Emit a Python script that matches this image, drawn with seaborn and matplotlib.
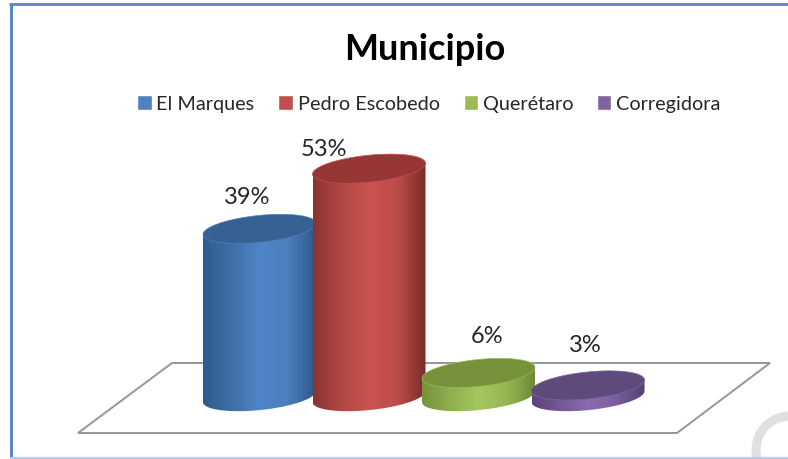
#Municipio chart - 3D looking cylinders drawn from a seaborn barplot
import numpy as np
import pandas as pd
import seaborn as sns
import matplotlib.pyplot as plt
from matplotlib.colors import LinearSegmentedColormap
from matplotlib.patches import Polygon, Ellipse

#Data (labels are rounded, they add up to 101, the small discs read a bit under their label)
municipios = ['El Marques', 'Pedro Escobedo', 'Querétaro', 'Corregidora']
valores = [39, 53, 5.5, 2.6]
etiquetas = ['39%', '53%', '6%', '3%']

#Colours
colores = ['#4F81BD', '#C0504D', '#9BBB59', '#8064A2']
tapas = ['#376193', '#973735', '#76933C', '#5F4A7C']
lados = [['#2F5C8F', '#3F6DA5', '#4F86C8', '#4B7FBD', '#30588A'],
         ['#8A3331', '#B24845', '#CB5350', '#BC4C49', '#7A2C2A'],
         ['#769339', '#8FAE50', '#A4C75E', '#96B654', '#6F8B36'],
         ['#5A4479', '#735894', '#8A6BB0', '#7A5F9C', '#553F73']]

#Layout, in pixels of the 788x459 picture
ANCHO, ALTO = 788, 459
PX_X = 109.5       #pixels between two categories
PX_Y = 4.3         #pixels for one percent
X0, Y0 = 259.5, 396.6   #centre of the first base
MEDIO_X = 56.5
MEDIO_Y = 13.5
CORTE = 5.5        #tilt of the ellipses
#label shift from the bar centre (x) and above the top of the bar (y)
mover_x = [-12, -45, 9, -3]
mover_y = [31, 19, 36, 40]


def dx(p):
    return (p - X0) / PX_X


def dy(p):
    return (Y0 - p) / PX_Y


sns.set_theme(style='white')
plt.rcParams['font.family'] = ['Lato', 'DejaVu Sans']

fig = plt.figure(figsize=(ANCHO / 100, ALTO / 100), dpi=100)
ax = fig.add_axes([0, 0, 1, 1])

tabla = pd.DataFrame({'municipio': municipios, 'valor': valores})
sns.barplot(data=tabla, x='municipio', y='valor', hue='municipio', palette=colores,
            hue_order=municipios, width=2 * MEDIO_X / PX_X, saturation=1, legend=True, ax=ax)

ax.set_xlim(dx(0), dx(ANCHO))
ax.set_ylim(dy(ALTO), dy(0))
ax.axis('off')

#Legend
sns.move_legend(ax, 'center', bbox_to_anchor=(dx(429), dy(104)), bbox_transform=ax.transData,
                ncol=4, frameon=False, title=None, fontsize=14.3, handlelength=0.72,
                handleheight=0.72, handletextpad=0.25, columnspacing=1.2, labelcolor='#262626')

#Floor
suelo = [(172, 363), (770, 363), (677, 433), (78, 433)]
ax.add_patch(Polygon([(dx(p), dy(q)) for p, q in suelo], closed=True, fill=False,
                     edgecolor='#969696', linewidth=1.4, zorder=1))

t_abajo = np.linspace(np.pi, 2 * np.pi, 80)
t_todo = np.linspace(0, 2 * np.pi, 160)
a = MEDIO_X / PX_X
b = MEDIO_Y / PX_Y
k = CORTE / PX_Y

#Turn each seaborn bar into a cylinder
barras = [p for p in ax.patches if isinstance(p, plt.Rectangle) and p.get_height() > 0]
for i, barra in enumerate(barras):
    cx = barra.get_x() + barra.get_width() / 2
    alto = barra.get_height()
    barra.set_visible(False)
    z = 3 + i

    #side of the cylinder: bottom arc plus the top edge
    xs = cx + a * np.cos(t_abajo)
    ys = b * np.sin(t_abajo) + k * np.cos(t_abajo)
    cuerpo = list(zip(xs, ys)) + [(cx + a, alto + k), (cx - a, alto - k)]
    clip = Polygon(cuerpo, closed=True, transform=ax.transData)

    mapa = LinearSegmentedColormap.from_list('lado', lados[i])
    img = ax.imshow(np.linspace(0, 1, 200).reshape(1, -1), cmap=mapa, aspect='auto',
                    extent=(cx - a, cx + a, -b - k - 1, alto + b + k), zorder=z)
    img.set_clip_path(clip)

    #top of the cylinder
    tapa = Polygon(list(zip(cx + a * np.cos(t_todo),
                            alto + b * np.sin(t_todo) + k * np.cos(t_todo))),
                   closed=True, facecolor=tapas[i], edgecolor=colores[i], linewidth=0.5, zorder=z)
    ax.add_patch(tapa)

    #percent label
    ax.text(cx + mover_x[i] / PX_X, alto + mover_y[i] / PX_Y, etiquetas[i], ha='center', va='center',
            fontsize=17, color='#262626', zorder=10)

ax.set_xlim(dx(0), dx(ANCHO))
ax.set_ylim(dy(ALTO), dy(0))

#Title
ax.text(dx(425), dy(49), 'Municipio', ha='center', va='center', fontsize=26, fontweight='bold',
        color='black')

#Frame of the chart area
ax.plot([dx(11), dx(11)], [dy(4), dy(ALTO)], color='#5B86C5', linewidth=2.2, zorder=11)
ax.plot([dx(10), dx(ANCHO)], [dy(4), dy(4)], color='#5B86C5', linewidth=2.0, zorder=11)
ax.plot([dx(11), dx(ANCHO)], [dy(458), dy(458)], color='#B5CDEE', linewidth=1.6, zorder=11)

#Grey watermark arc in the corner
ax.add_patch(Ellipse((dx(790), dy(450)), 68 / PX_X, 68 / PX_Y, fill=False, edgecolor='#E0E0E0',
                     linewidth=6.5, zorder=2))

fig.savefig('out.png', dpi=100)
